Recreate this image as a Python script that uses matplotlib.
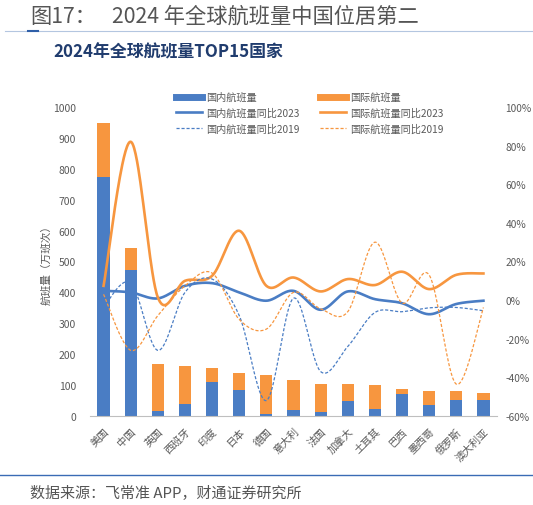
import numpy as np
import matplotlib
matplotlib.use('Agg')
import matplotlib.pyplot as plt
from matplotlib.lines import Line2D
from matplotlib.ticker import FuncFormatter

plt.rcParams['font.family'] = ['Noto Sans CJK SC', 'DejaVu Sans']

countries = ['美国', '中国', '英国', '西班牙', '印度', '日本', '德国', '意大利',
             '法国', '加拿大', '土耳其', '巴西', '墨西哥', '俄罗斯', '澳大利亚']
# flights, 10k
domestic = [775, 472, 17, 38, 110, 83, 8, 21, 13, 47, 24, 71, 37, 52, 52]
international = [173, 73, 150, 124, 45, 55, 126, 97, 92, 55, 77, 15, 44, 29, 23]
# growth, %
dom_vs2023 = [4.8, 4.0, 0.9, 7.4, 8.8, 4.0, -0.3, 4.8, -5.0, 4.5, 0.5, -1.6, -7.3, -2.0, -0.3]
intl_vs2023 = [7.4, 82, 1.4, 10, 12.6, 35.9, 7.4, 11.7, 4.5, 10.9, 7.8, 14.7, 5.7, 13.1, 13.8]
dom_vs2019 = [-3.5, 9, -26, 4, 10.9, -8, -52, 1, -37, -24, -6.4, -6, -4, -3.8, -5.5]
intl_vs2019 = [3, -26, -8, 7.4, 14, -10, -15, 4, -4.5, -6, 30, -1.5, 13, -43.5, -3.8]

BLUE = '#4A7DC4'
ORANGE = '#F7963F'
GRAY = '#595959'


def smooth(xs, ys, n=40):
    """Excel-like smoothed line (bezier through the points)."""
    x = np.asarray(xs, float)
    y = np.asarray(ys, float)
    px = np.concatenate([[x[0]], x, [x[-1]]])
    py = np.concatenate([[y[0]], y, [y[-1]]])
    t = np.linspace(0, 1, n)
    out_x, out_y = [], []
    for i in range(1, len(px) - 2):
        x0, x1, x2, x3 = px[i - 1], px[i], px[i + 1], px[i + 2]
        y0, y1, y2, y3 = py[i - 1], py[i], py[i + 1], py[i + 2]
        bx1, by1 = x1 + (x2 - x0) / 6, y1 + (y2 - y0) / 6
        bx2, by2 = x2 - (x3 - x1) / 6, y2 - (y3 - y1) / 6
        bx = (1 - t) ** 3 * x1 + 3 * (1 - t) ** 2 * t * bx1 + 3 * (1 - t) * t ** 2 * bx2 + t ** 3 * x2
        by = (1 - t) ** 3 * y1 + 3 * (1 - t) ** 2 * t * by1 + 3 * (1 - t) * t ** 2 * by2 + t ** 3 * y2
        out_x.extend(bx)
        out_y.extend(by)
    return np.array(out_x), np.array(out_y)


fig = plt.figure(figsize=(5.33, 5.06), dpi=100)

fig.text(30 / 533, 1 - 17 / 506, '图17：', fontsize=15.3,
         color='#555555', va='center', ha='left')
fig.text(112 / 533, 1 - 17 / 506, '2024 年全球航班量中国位居第二', fontsize=15.3,
         color='#555555', va='center', ha='left')
fig.add_artist(Line2D([5 / 533, 1], [1 - 32 / 506] * 2, color='#B4C6E0', lw=0.8))
fig.add_artist(Line2D([28 / 533, 38 / 533], [1 - 32 / 506] * 2, color='#2F5FA8', lw=1.5))
fig.text(53 / 533, 1 - 52 / 506, '2024年全球航班量TOP15国家', fontsize=12.2,
         fontweight='bold', color='#203C6E', va='center', ha='left')
fig.add_artist(Line2D([0, 1], [1 - 476 / 506] * 2, color='#3A6BB5', lw=1.0))
fig.text(30 / 533, 1 - 493 / 506, '数据来源：飞常准 APP，财通证券研究所', fontsize=10.8,
         color='#555555', va='center', ha='left')

ax = fig.add_axes([90 / 533, 1 - 417 / 506, 407 / 533, 309 / 506])
x = np.arange(len(countries))
ax.bar(x, domestic, width=0.45, color=BLUE, label='国内航班量', zorder=2)
ax.bar(x, international, width=0.45, bottom=domestic, color=ORANGE, label='国际航班量', zorder=2)
ax.set_xlim(-0.5, len(countries) - 0.5)
ax.set_ylim(0, 1000)
ax.set_yticks(range(0, 1001, 100))
ax.set_xticks(x)
ax.set_xticklabels(countries, rotation=45, ha='right', rotation_mode='anchor',
                   fontsize=8, color=GRAY)
ax.tick_params(axis='both', length=0, labelsize=7.5, labelcolor=GRAY)
ax.tick_params(axis='x', pad=7)
ax.tick_params(axis='y', pad=10)
for s in ['left', 'right', 'top']:
    ax.spines[s].set_visible(False)
ax.spines['bottom'].set_color('#BFBFBF')
ax.set_ylabel('航班量（万班次）', fontsize=7.7, color=GRAY, labelpad=1)

ax2 = ax.twinx()
ax2.set_ylim(-60, 100)
ax2.set_yticks(range(-60, 101, 20))
ax2.yaxis.set_major_formatter(FuncFormatter(lambda v, p: f'{int(v)}%'))
ax2.tick_params(axis='y', length=0, labelsize=7.3, labelcolor=GRAY, pad=6)
for s in ax2.spines.values():
    s.set_visible(False)

sx, sy = smooth(x, dom_vs2023)
ax2.plot(sx, sy, color=BLUE, lw=1.9, label='国内航班量同比2023')
sx, sy = smooth(x, intl_vs2023)
ax2.plot(sx, sy, color=ORANGE, lw=1.9, label='国际航班量同比2023')
sx, sy = smooth(x, dom_vs2019)
ax2.plot(sx, sy, color=BLUE, lw=0.9, ls=(0, (2.5, 1.5)), label='国内航班量同比2019')
sx, sy = smooth(x, intl_vs2019)
ax2.plot(sx, sy, color=ORANGE, lw=0.9, ls=(0, (2.5, 1.5)), label='国际航班量同比2019')

handles = [
    Line2D([], [], color=BLUE, lw=5),
    Line2D([], [], color=BLUE, lw=1.9),
    Line2D([], [], color=BLUE, lw=0.9, ls=(0, (2.5, 1.5))),
    Line2D([], [], color=ORANGE, lw=5),
    Line2D([], [], color=ORANGE, lw=1.9),
    Line2D([], [], color=ORANGE, lw=0.9, ls=(0, (2.5, 1.5))),
]
labels = ['国内航班量', '国内航班量同比2023', '国内航班量同比2019',
          '国际航班量', '国际航班量同比2023', '国际航班量同比2019']
fig.legend(handles, labels, loc='upper left', bbox_to_anchor=(176 / 533, 1 - 93 / 506),
           ncol=2, frameon=False, fontsize=7.3, labelcolor=GRAY, handlelength=2.6,
           handletextpad=0.4, columnspacing=2.0, labelspacing=0.55,
           borderpad=0, borderaxespad=0)

fig.savefig('out.png', dpi=100)
